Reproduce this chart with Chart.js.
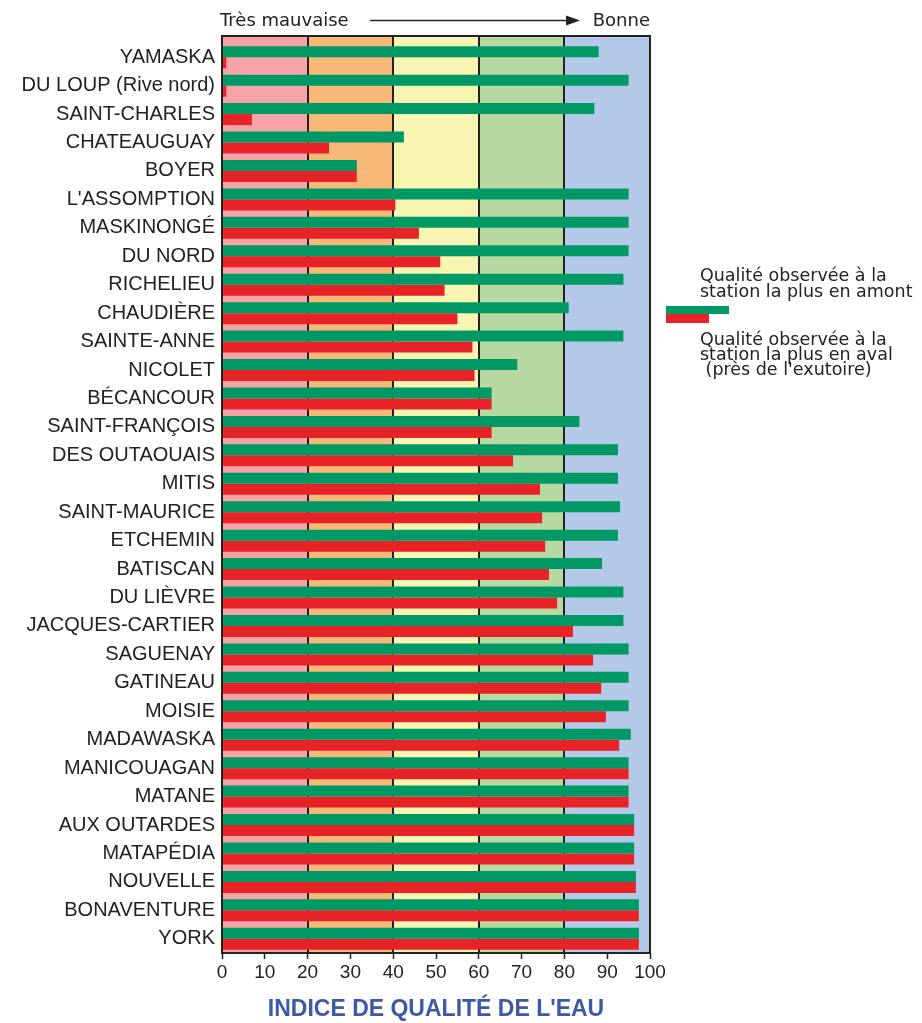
<!DOCTYPE html>
<html lang="fr">
<head>
<meta charset="utf-8">
<title>Indice de qualité de l'eau</title>
<script src="https://cdn.jsdelivr.net/npm/chart.js@4.4.1/dist/chart.umd.min.js"></script>
<style>
  html, body { margin: 0; padding: 0; background: #fff; }
  #wrap { width: 922px; height: 1023px; position: relative; }
</style>
</head>
<body>
<div id="wrap"><canvas id="iqbpChart"></canvas></div>
<script>
// rivières, de haut en bas
const rivers = [
  'YAMASKA', 'DU LOUP (Rive nord)', 'SAINT-CHARLES', 'CHATEAUGUAY', 'BOYER',
  "L'ASSOMPTION", 'MASKINONGÉ', 'DU NORD', 'RICHELIEU', 'CHAUDIÈRE',
  'SAINTE-ANNE', 'NICOLET', 'BÉCANCOUR', 'SAINT-FRANÇOIS', 'DES OUTAOUAIS',
  'MITIS', 'SAINT-MAURICE', 'ETCHEMIN', 'BATISCAN', 'DU LIÈVRE',
  'JACQUES-CARTIER', 'SAGUENAY', 'GATINEAU', 'MOISIE', 'MADAWASKA',
  'MANICOUAGAN', 'MATANE', 'AUX OUTARDES', 'MATAPÉDIA', 'NOUVELLE',
  'BONAVENTURE', 'YORK'
];

// station la plus en amont
const amont = [
  88, 95, 87, 42.5, 31.5,
  95, 95, 95, 93.8, 81,
  93.8, 69, 63, 83.5, 92.5,
  92.5, 93, 92.5, 88.8, 93.8,
  93.8, 95, 95, 95, 95.5,
  95, 95, 96.3, 96.3, 96.7,
  97.4, 97.4
];

// station la plus en aval (près de l'exutoire)
const aval = [
  1, 1, 7, 25, 31.5,
  40.5, 46, 51, 52, 55,
  58.5, 59, 63, 63, 68,
  74.3, 74.8, 75.5, 76.4, 78.3,
  82, 86.7, 88.6, 89.7, 92.8,
  95, 95, 96.3, 96.3, 96.7,
  97.4, 97.4
];

// classes de qualité (limites et couleurs de fond)
const classLimits = [0, 20, 40, 60, 80, 100];
const classColors = ['#f5a3a6', '#f8b978', '#f8f4b2', '#b7d9a1', '#b4c8e7'];
const xTicks = [0, 10, 20, 30, 40, 50, 60, 70, 80, 90, 100];

const GREEN = '#009966';
const RED = '#e82328';
const INK = '#222222';

const legendAmont = ['Qualité observée à la', 'station la plus en amont'];
const legendAval = ['Qualité observée à la', 'station la plus en aval', ' (près de l\'exutoire)'];

const decorPlugin = {
    id: 'decor',
    beforeDatasetsDraw(chart) {
        const { ctx, chartArea: a, scales: { x } } = chart;
        const top = a.top - 7;
        ctx.save();
        // bandes de couleur
        for (let i = 0; i < classColors.length; i++) {
            const x0 = x.getPixelForValue(classLimits[i]);
            const x1 = x.getPixelForValue(classLimits[i + 1]);
            ctx.fillStyle = classColors[i];
            ctx.fillRect(x0, top, x1 - x0, a.bottom - top);
        }
        // séparateurs entre les classes
        ctx.strokeStyle = INK;
        ctx.lineWidth = 2;
        classLimits.slice(1, -1).forEach(v => {
            const px = Math.round(x.getPixelForValue(v));
            ctx.beginPath();
            ctx.moveTo(px, top);
            ctx.lineTo(px, a.bottom);
            ctx.stroke();
        });
        ctx.restore();
    },
    afterDatasetsDraw(chart) {
        const { ctx, chartArea: a } = chart;
        const top = a.top - 7;
        ctx.save();
        ctx.strokeStyle = INK;
        ctx.lineWidth = 2;
        ctx.strokeRect(a.left, top, a.right - a.left, a.bottom - top);
        ctx.restore();
    },
    afterDraw(chart) {
        const { ctx, chartArea: a } = chart;
        ctx.save();
        // en-tête : Très mauvaise ----> Bonne
        ctx.fillStyle = INK;
        ctx.font = '18px "DejaVu Sans", Verdana, sans-serif';
        ctx.textBaseline = 'alphabetic';
        ctx.textAlign = 'left';
        ctx.fillText('Très mauvaise', a.left - 2, 26);
        ctx.textAlign = 'right';
        ctx.fillText('Bonne', a.right, 26);
        ctx.strokeStyle = INK;
        ctx.lineWidth = 1.5;
        ctx.beginPath();
        ctx.moveTo(370, 20.5);
        ctx.lineTo(570, 20.5);
        ctx.stroke();
        ctx.beginPath();
        ctx.moveTo(580, 20.5);
        ctx.lineTo(566, 15.5);
        ctx.lineTo(566, 25.5);
        ctx.closePath();
        ctx.fill();

        // légende à droite
        ctx.textAlign = 'left';
        ctx.font = '17.5px "DejaVu Sans", Verdana, sans-serif';
        legendAmont.forEach((t, i) => ctx.fillText(t, 700, 281 + i * 16));
        ctx.fillStyle = GREEN;
        ctx.fillRect(666, 306, 63, 8);
        ctx.fillStyle = RED;
        ctx.fillRect(666, 314, 43, 9);
        ctx.fillStyle = INK;
        legendAval.forEach((t, i) => ctx.fillText(t, 700, 345 + i * 15));
        ctx.restore();
    }
};

const config = {
    type: 'bar',
    data: {
        labels: rivers,
        datasets: [
            {
                label: 'Qualité observée à la station la plus en amont',
                data: amont,
                backgroundColor: GREEN,
                borderWidth: 0
            },
            {
                label: "Qualité observée à la station la plus en aval (près de l'exutoire)",
                data: aval,
                backgroundColor: RED,
                borderWidth: 0
            }
        ]
    },
    options: {
        indexAxis: 'y',
        responsive: true,
        maintainAspectRatio: false,
        animation: false,
        datasets: {
            bar: {
                categoryPercentage: 0.775,
                barPercentage: 1
            }
        },
        layout: {
            padding: { top: 43, right: 272, bottom: 0, left: 0 }
        },
        scales: {
            x: {
                type: 'linear',
                min: 0,
                max: 100,
                afterBuildTicks: axis => {
                    axis.ticks = xTicks.map(v => ({ value: v }));
                },
                afterFit: scale => { scale.height = 70; },
                grid: {
                    drawOnChartArea: false,
                    drawTicks: true,
                    tickLength: 6,
                    tickColor: INK,
                    tickWidth: 1.5
                },
                border: { display: false },
                ticks: {
                    color: INK,
                    padding: 2,
                    maxRotation: 0,
                    font: { family: '"Liberation Sans", Arial, sans-serif', size: 19 }
                },
                title: {
                    display: true,
                    text: "INDICE DE QUALITÉ DE L'EAU",
                    color: '#3b59a6',
                    padding: 0,
                    font: { family: '"Liberation Sans", Arial, sans-serif', size: 23, weight: 'bold' }
                }
            },
            y: {
                afterFit: scale => { scale.width = 222; },
                grid: { display: false, drawTicks: false },
                border: { display: false },
                ticks: {
                    color: INK,
                    padding: 7,
                    autoSkip: false,
                    font: { family: '"Liberation Sans", Arial, sans-serif', size: 20 }
                }
            }
        },
        plugins: {
            legend: { display: false },
            tooltip: {
                callbacks: {
                    label: function (context) {
                        return context.dataset.label + ': ' + context.parsed.x;
                    }
                }
            }
        }
    },
    plugins: [decorPlugin]
};

new Chart(document.getElementById('iqbpChart'), config);
</script>
</body>
</html>
